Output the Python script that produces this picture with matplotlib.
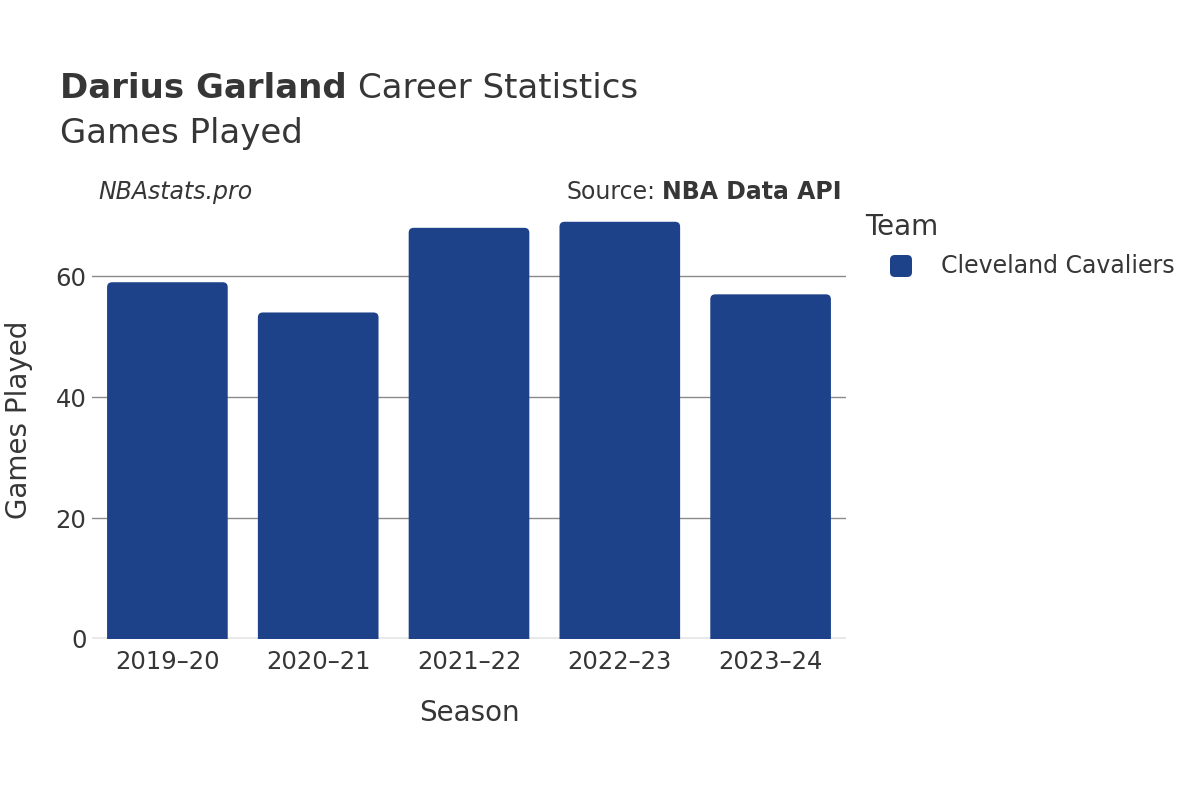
import matplotlib
matplotlib.use("Agg")
import matplotlib.pyplot as plt
import matplotlib.patches as patches

#   Data
seasons = ["2019–20", "2020–21", "2021–22", "2022–23", "2023–24"]
games_played = [59, 54, 68, 69, 57]
team = "Cleveland Cavaliers"
y_ticks = [0, 20, 40, 60]

bar_color = "#1d428a"
text_color = "#363636"

plt.rcParams['font.family'] = ['DejaVu Sans']

fig = plt.figure(figsize=(12, 8), dpi=100)
ax = fig.add_axes([92 / 1200, 1 - 639 / 800, (846 - 92) / 1200, (639 - 200) / 800])

ax.set_xlim(-0.5, len(seasons) - 0.5)
ax.set_ylim(0, 72.6)

#   Bars (drawn with ax.bar, then swapped for rounded versions)
bars = ax.bar(range(len(seasons)), games_played, width=0.8, color=bar_color)
fig.canvas.draw()
px_x = ax.transData.transform((1, 0))[0] - ax.transData.transform((0, 0))[0]
px_y = ax.transData.transform((0, 1))[1] - ax.transData.transform((0, 0))[1]
aspect = px_x / px_y
r = 5 / px_x
for b in bars:
    x0, w, h = b.get_x(), b.get_width(), b.get_height()
    b.remove()
    p = patches.FancyBboxPatch((x0, -5), w, h + 5,
                               boxstyle="round,pad=0,rounding_size=%f" % r,
                               mutation_aspect=aspect,
                               facecolor=bar_color, edgecolor="none", zorder=3)
    ax.add_patch(p)

#   Grid and axes
for t in y_ticks[1:]:
    ax.axhline(t, color="#8a8a8a", linewidth=1, zorder=1)
ax.axhline(0, color="#e8e8e8", linewidth=3.5, zorder=2)
for s in ax.spines.values():
    s.set_visible(False)
ax.set_yticks(y_ticks)
ax.set_xticks(range(len(seasons)))
ax.set_xticklabels(seasons)
ax.tick_params(axis="both", length=0, labelsize=17.5, labelcolor=text_color)
ax.tick_params(axis="x", pad=8)
ax.tick_params(axis="y", pad=4)

ax.set_xlabel("Season", fontsize=20, color=text_color, labelpad=18)
ax.set_ylabel("Games Played", fontsize=20, color=text_color, labelpad=16)

#   Titles
t1 = fig.text(60 / 1200, 1 - 89 / 800, "Darius Garland", fontsize=24.5,
              fontweight="bold", color=text_color, va="center", ha="left")
fig.canvas.draw()
bb = t1.get_window_extent()
fig.text(bb.x1 / 1200 + 0.009, 1 - 89 / 800, "Career Statistics", fontsize=24.5,
         color=text_color, va="center", ha="left")
fig.text(60 / 1200, 1 - 133 / 800, "Games Played", fontsize=24.5,
         color=text_color, va="center", ha="left")

fig.text(98 / 1200, 1 - 192 / 800, "NBAstats.pro", fontsize=17, style="italic",
         color=text_color, va="center", ha="left")
t2 = fig.text(842 / 1200, 1 - 192 / 800, "NBA Data API", fontsize=17,
              fontweight="bold", color=text_color, va="center", ha="right")
fig.canvas.draw()
bb2 = t2.get_window_extent()
fig.text(bb2.x0 / 1200 - 0.006, 1 - 192 / 800, "Source:", fontsize=17,
         color=text_color, va="center", ha="right")

#   Legend
fig.text(865 / 1200, 1 - 227 / 800, "Team", fontsize=20,
         color=text_color, va="center", ha="left")
fig.patches.append(patches.FancyBboxPatch((890 / 1200, 1 - 277 / 800), 22 / 1200, 22 / 800,
                                          boxstyle="round,pad=0,rounding_size=0.004",
                                          mutation_aspect=1.5, facecolor=bar_color,
                                          edgecolor="none", transform=fig.transFigure,
                                          figure=fig))
fig.text(941 / 1200, 1 - 266 / 800, team, fontsize=17,
         color=text_color, va="center", ha="left")

fig.savefig("out.png", dpi=100)
